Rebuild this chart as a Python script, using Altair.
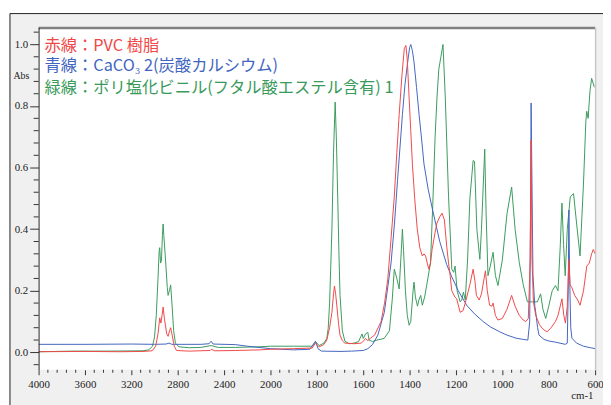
import altair as alt
import pandas as pd

# ---------------- data ----------------
red_wn = [4000, 3600, 3300, 3100, 3020, 2990, 2970, 2955, 2945, 2935, 2926, 2915, 2895, 2883, 2870, 2861,
          2850, 2830, 2810, 2700, 2520, 2510, 2480, 2300, 2100, 2000, 1900, 1820, 1806, 1790, 1770, 1757,
          1745, 1735, 1728, 1724, 1719, 1714, 1706, 1700, 1690, 1679, 1640, 1608, 1595, 1590, 1580, 1570,
          1551, 1523, 1508, 1494, 1480, 1466, 1455, 1445, 1433, 1423, 1416, 1410, 1402, 1395, 1388, 1378,
          1367, 1356, 1345, 1338, 1331, 1324, 1317, 1310, 1303, 1290, 1282, 1270, 1260, 1250, 1240, 1232,
          1225, 1218, 1205, 1197, 1182, 1170, 1160, 1140, 1126, 1118, 1112, 1100, 1090, 1073, 1065, 1055,
          1045, 1040, 1030, 1019, 1000, 980, 960, 945, 927, 910, 899, 888, 880, 876, 872, 866, 856, 840,
          828, 815, 806, 790, 771, 760, 743, 735, 728, 720, 713, 708, 700, 688, 675, 665, 650, 636, 625,
          615, 608, 600]
red_ab = [0.002, 0.003, 0.002, 0.003, 0.005, 0.02, 0.06, 0.112, 0.095, 0.12, 0.147, 0.11, 0.06, 0.052, 0.07, 0.08,
          0.06, 0.02, 0.006, 0.004, 0.006, 0.01, 0.005, 0.006, 0.008, 0.01, 0.012, 0.014, 0.03, 0.018, 0.025, 0.04,
          0.08, 0.13, 0.19, 0.215, 0.19, 0.153, 0.09, 0.056, 0.038, 0.03, 0.028, 0.03, 0.04, 0.045, 0.038, 0.045,
          0.056, 0.1, 0.16, 0.238, 0.37, 0.505, 0.65, 0.772, 0.9, 0.986, 0.997, 0.95, 0.826, 0.72, 0.612, 0.5,
          0.4, 0.34, 0.313, 0.32, 0.313, 0.29, 0.27, 0.29, 0.334, 0.39, 0.42, 0.44, 0.452, 0.43, 0.345, 0.29,
          0.249, 0.2, 0.18, 0.174, 0.13, 0.135, 0.16, 0.22, 0.27, 0.23, 0.185, 0.17, 0.19, 0.265, 0.2, 0.153,
          0.15, 0.16, 0.12, 0.105, 0.11, 0.14, 0.185, 0.15, 0.12, 0.105, 0.1, 0.11, 0.3, 0.69, 0.3, 0.164, 0.12, 0.09,
          0.078, 0.07, 0.067, 0.08, 0.1, 0.12, 0.174, 0.12, 0.095, 0.15, 0.302, 0.22, 0.21, 0.185, 0.17, 0.153, 0.2, 0.28, 0.29,
          0.32, 0.334, 0.32]

blue_wn = [4000, 3600, 3200, 3000, 2900, 2875, 2850, 2600, 2530, 2512, 2495, 2300, 2200, 2000, 1900, 1830,
           1806, 1795, 1780, 1700, 1650, 1600, 1580, 1560, 1537, 1509, 1480, 1465, 1452, 1431, 1420, 1410,
           1400, 1395, 1388, 1381, 1370, 1359, 1348, 1338, 1320, 1303, 1270, 1240, 1218, 1190, 1154, 1120,
           1083, 1050, 1012, 980, 941, 910, 890, 882, 878, 876, 873, 868, 860, 856, 848, 842, 820, 800, 770,
           729, 720, 716, 713, 710, 705, 700, 680, 650, 620, 600]
blue_ab = [0.026, 0.026, 0.027, 0.026, 0.027, 0.03, 0.026, 0.026, 0.028, 0.036, 0.027, 0.025, 0.02, 0.012, 0.008, 0.01,
           0.036, 0.012, 0.004, 0.003, 0.004, 0.006, 0.012, 0.025, 0.056, 0.13, 0.29, 0.42, 0.559, 0.772, 0.87, 0.933,
           0.99, 1.0, 0.98, 0.943, 0.86, 0.772, 0.69, 0.612, 0.53, 0.47, 0.36, 0.285, 0.245, 0.2, 0.153, 0.125,
           0.1, 0.082, 0.067, 0.056, 0.046, 0.042, 0.04, 0.1, 0.5, 0.81, 0.6, 0.25, 0.15, 0.13, 0.08, 0.056, 0.042, 0.037, 0.033,
           0.026, 0.03, 0.2, 0.462, 0.25, 0.08, 0.046, 0.03, 0.02, 0.015, 0.012]

green_wn = [4000, 3700, 3400, 3100, 3050, 3017, 3000, 2985, 2970, 2960, 2955, 2948, 2940, 2932, 2926, 2920,
            2905, 2890, 2883, 2872, 2861, 2850, 2835, 2820, 2790, 2700, 2600, 2512, 2450, 2300, 2100, 2000,
            1900, 1820, 1806, 1790, 1770, 1757, 1751, 1745, 1735, 1728, 1721, 1716, 1710, 1705, 1700, 1690,
            1679, 1660, 1640, 1620, 1605, 1600, 1590, 1580, 1575, 1560, 1540, 1510, 1487, 1475, 1466, 1455,
            1445, 1438, 1431, 1426, 1418, 1410, 1402, 1395, 1385, 1381, 1375, 1366, 1360, 1352, 1345, 1335,
            1324, 1310, 1300, 1290, 1282, 1274, 1265, 1256, 1246, 1232, 1218, 1210, 1204, 1195, 1182, 1175,
            1168, 1160, 1150, 1140, 1126, 1120, 1110, 1097, 1090, 1076, 1070, 1062, 1052, 1040, 1030, 1019,
            1000, 980, 960, 945, 927, 910, 892, 870, 849, 835, 825, 813, 800, 785, 771, 760, 750, 743, 736,
            729, 720, 707, 693, 680, 665, 650, 640, 636, 630, 622, 615, 604, 600]
green_ab = [0.002, 0.004, 0.004, 0.005, 0.008, 0.02, 0.05, 0.12, 0.24, 0.33, 0.34, 0.29, 0.3, 0.38, 0.417, 0.38,
            0.3, 0.21, 0.185, 0.2, 0.219, 0.16, 0.07, 0.03, 0.018, 0.015, 0.016, 0.022, 0.016, 0.016, 0.018, 0.02,
            0.02, 0.02, 0.035, 0.022, 0.03, 0.045, 0.078, 0.16, 0.4, 0.65, 0.813, 0.7, 0.505, 0.33, 0.185, 0.07,
            0.036, 0.028, 0.03, 0.035, 0.06, 0.045, 0.06, 0.065, 0.04, 0.035, 0.04, 0.045, 0.07, 0.17, 0.27, 0.24,
            0.206, 0.3, 0.4, 0.33, 0.2, 0.12, 0.088, 0.1, 0.2, 0.228, 0.18, 0.15, 0.17, 0.185, 0.153, 0.18,
            0.228, 0.29, 0.48, 0.7, 0.826, 0.92, 0.96, 1.0, 0.826, 0.505, 0.27, 0.26, 0.28, 0.2, 0.164, 0.17,
            0.196, 0.17, 0.3, 0.5, 0.623, 0.62, 0.4, 0.302, 0.4, 0.66, 0.45, 0.249, 0.28, 0.325, 0.25, 0.217,
            0.3, 0.45, 0.537, 0.4, 0.292, 0.22, 0.164, 0.164, 0.164, 0.19, 0.14, 0.11, 0.15, 0.2, 0.217, 0.2, 0.35, 0.485, 0.35,
            0.249, 0.4, 0.505, 0.516, 0.42, 0.313, 0.55, 0.75, 0.783, 0.76, 0.85, 0.89, 0.863, 0.86]

legend_labels = ["赤線：PVC 樹脂", "青線：CaCO₃ 2(炭酸カルシウム)", "緑線：ポリ塩化ビニル(フタル酸エステル含有) 1"]

x_major = [4000, 3600, 3200, 2800, 2400, 2000, 1800, 1600, 1400, 1200, 1000, 800, 600]
x_minor = [v for v in range(4000, 2000, -80) if v not in x_major] + \
          [v for v in range(2000, 599, -40) if v not in x_major]
y_major = [0.0, 0.2, 0.4, 0.6, 0.8, 1.0]
y_minor = [round(-0.04 + 0.04 * i, 2) for i in range(28)]
y_minor = [v for v in y_minor if all(abs(v - m) > 1e-6 for m in y_major)]

# ---------------- layout / style ----------------
W, H = 564, 347
NUM_FONT = "Liberation Sans Narrow"
JP_FONT = "Noto Sans CJK JP"
RED, BLUE, GREEN = "#f04848", "#4265c0", "#3a9a5c"

xs = alt.Scale(domain=[4000, 2000, 600], range=[0, 235, W], nice=False, zero=False)
ys = alt.Scale(domain=[-0.0567, 1.0554], nice=False, zero=False)

x_axis = alt.Axis(values=x_major, format="d", domain=False, grid=False, tickSize=5, tickColor="#333",
                  labelFont=NUM_FONT, labelFontSize=11, labelColor="#222", labelPadding=4,
                  labelFlush=False, labelOverlap=False, title=None, zindex=1)
y_axis = alt.Axis(values=y_major, format=".1f", domain=True, domainColor="#222", grid=False, tickSize=9,
                  tickColor="#333", labelFont=NUM_FONT, labelFontSize=11, labelColor="#222", labelPadding=2,
                  title="Abs", titleAngle=0, titleX=-18, titleY=49, titleAlign="center", titleBaseline="middle",
                  titleFont=NUM_FONT, titleFontSize=10, titleFontWeight="normal", titleColor="#222", zindex=1)

X = lambda f: alt.X(f, scale=xs, axis=x_axis)
Y = lambda f: alt.Y(f, scale=ys, axis=y_axis)

one = pd.DataFrame({"k": [0]})


def spectrum(wn, ab, color):
    df = pd.DataFrame({"wn": wn, "ab": ab})
    return alt.Chart(df).mark_line(color=color, strokeWidth=1, clip=True).encode(
        x=X("wn:Q"), y=Y("ab:Q"), order="wn:Q")


green = spectrum(green_wn, green_ab, GREEN)
blue = spectrum(blue_wn, blue_ab, BLUE)
red = spectrum(red_wn, red_ab, RED)

# outer frame lines (top and left) and white page strips outside them
outer_left = alt.Chart(one).mark_rule(color="#222", strokeWidth=1).encode(
    x=alt.value(-29), y=alt.value(-14), y2=alt.value(H + 60))
outer_top = alt.Chart(one).mark_rule(color="#222", strokeWidth=1).encode(
    x=alt.value(-29), x2=alt.value(W + 60), y=alt.value(-14))
strip_left = alt.Chart(one).mark_rect(fill="white").encode(
    x=alt.value(-32), x2=alt.value(-29.5), y=alt.value(-20), y2=alt.value(H + 60))
strip_top = alt.Chart(one).mark_rect(fill="white").encode(
    x=alt.value(-32), x2=alt.value(W + 60), y=alt.value(-20), y2=alt.value(-14.5))

minor_x = alt.Chart(pd.DataFrame({"wn": x_minor})).mark_rule(color="#333", strokeWidth=1).encode(
    x=X("wn:Q"), y=alt.value(H), y2=alt.value(H + 3))
minor_y = alt.Chart(pd.DataFrame({"ab": y_minor})).mark_rule(color="#333", strokeWidth=1).encode(
    y=Y("ab:Q"), x=alt.value(-5), x2=alt.value(0))

top_line = alt.Chart(one).mark_rule(color="#808080", strokeWidth=2.5).encode(
    x=alt.value(0), x2=alt.value(W), y=alt.value(0.5))
right_line = alt.Chart(one).mark_rule(color="#c8c8c8", strokeWidth=1.5).encode(
    x=alt.value(W + 0.5), y=alt.value(0), y2=alt.value(H))


def legend_text(i, color, ypos):
    return alt.Chart(one).mark_text(text=legend_labels[i], font=JP_FONT, fontSize=16.5, color=color,
                                    align="left", baseline="middle").encode(
        x=alt.value(6), y=alt.value(ypos))


leg1 = legend_text(0, RED, 18.5)
leg2 = legend_text(1, BLUE, 39.5)
leg3 = legend_text(2, GREEN, 61)

cm = alt.Chart(one).mark_text(text="cm-1", font=NUM_FONT, fontSize=11, color="#222",
                              align="center", baseline="middle").encode(x=alt.value(551), y=alt.value(H + 27))

chart = alt.layer(strip_left, strip_top, outer_left, outer_top, minor_x, minor_y, green, blue, red,
                  top_line, right_line, leg1, leg2, leg3, cm).properties(
    width=W, height=H,
    padding={"left": 31, "top": 17, "right": 8, "bottom": 33},
    autosize=alt.AutoSizeParams(type="none"),
    background="#f0f0f0",
).configure_view(stroke=None, fill="white")

chart.save("out.html", embed_options={"renderer": "svg", "actions": False})
